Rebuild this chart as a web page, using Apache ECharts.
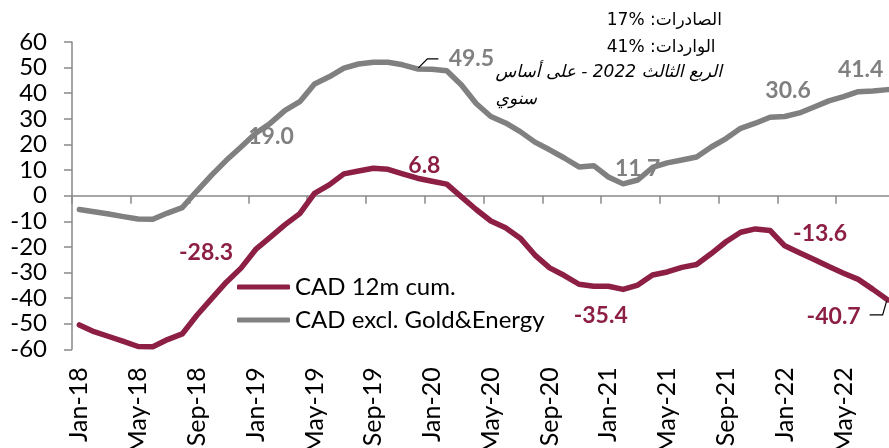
<!DOCTYPE html>
<html>
<head>
<meta charset="utf-8">
<script src="https://cdn.jsdelivr.net/npm/echarts@6/dist/echarts.min.js"></script>
<style>
  html,body{margin:0;padding:0;background:#fff;}
  #cadChart{width:889px;height:448px;}
</style>
</head>
<body>
<div id="cadChart"></div>
<script>
  let months = [
    'Jan-18','Feb-18','Mar-18','Apr-18','May-18','Jun-18','Jul-18','Aug-18','Sep-18','Oct-18','Nov-18','Dec-18',
    'Jan-19','Feb-19','Mar-19','Apr-19','May-19','Jun-19','Jul-19','Aug-19','Sep-19','Oct-19','Nov-19','Dec-19',
    'Jan-20','Feb-20','Mar-20','Apr-20','May-20','Jun-20','Jul-20','Aug-20','Sep-20','Oct-20','Nov-20','Dec-20',
    'Jan-21','Feb-21','Mar-21','Apr-21','May-21','Jun-21','Jul-21','Aug-21','Sep-21','Oct-21','Nov-21','Dec-21',
    'Jan-22','Feb-22','Mar-22','Apr-22','May-22','Jun-22','Jul-22','Aug-22'
  ]
  // CAD 12m cumulative
  let cadCum = [
    -50.5,-53.1,-55.0,-56.9,-58.9,-59.0,-56.2,-54.0,-46.7,-40.2,-33.8,-28.3,
    -21.0,-16.2,-11.3,-7.0,0.9,4.2,8.5,9.6,10.7,10.3,8.5,6.8,
    5.6,4.5,-0.5,-5.4,-9.9,-12.5,-16.6,-23.2,-28.2,-31.2,-34.6,-35.4,
    -35.4,-36.6,-34.9,-31.0,-29.8,-28.0,-26.9,-22.6,-18.0,-14.3,-13.0,-13.6,
    -19.6,-22.3,-24.9,-27.7,-30.3,-32.7,-36.6,-40.7
  ]
  // CAD excl. gold & energy
  let cadExGold = [
    -5.4,-6.3,-7.2,-8.2,-9.1,-9.2,-6.8,-4.7,1.8,8.0,13.8,19.0,
    24.4,28.3,33.3,36.7,43.6,46.4,49.8,51.4,52.1,52.1,51.1,49.5,
    49.4,48.8,43.2,36.0,30.9,28.4,25.0,20.9,17.9,14.7,11.2,11.7,
    7.3,4.6,6.1,11.0,12.8,13.9,15.1,19.0,22.3,26.3,28.3,30.6,
    30.9,32.3,34.6,37.0,38.7,40.6,40.9,41.4
  ]
  let yTicks = {min:-60, max:60, step:10}
  let noteLines = ['الصادرات: 17%', 'الواردات: 41%']
  let noteItalic = ['الربع الثالث 2022 - على أساس', 'سنوي']

  let red = '#8C1F43'
  let gray = '#808080'
  let latin = 'Lato, "Open Sans", sans-serif'

  // label offsets (px) from the point
  let redSpots = {11:[-35,-16], 23:[7,-13], 35:[7,29], 47:[50,3], 55:[-54,17]}
  let graySpots = {11:[30,-10], 23:[54,-10], 35:[44,3], 47:[18,-27], 55:[-27,-20]}
  // leader lines: [seriesIndex, dataIndex, bends relative to the point]
  let leaders = [
    [1, 23, [[1,-1],[10,-10],[21,-10]]],
    [0, 55, [[-1,1],[-5,15],[-18,15]]]
  ]

  function buildData(values, spots){
    return values.map(function(v, i){
      if(!spots[i]) return v
      return {value:v, label:{show:true}}
    })
  }
  // right-to-left line, numbers with % kept left-to-right
  function rtl(s){
    return '\u202B' + s.replace(/(\d+%)/g, '\u202A$1\u202C') + '\u202C'
  }

  let myChart = echarts.init(document.getElementById('cadChart'))

  function lineSeries(name, values, color, spots){
    return {
      name: name,
      type: 'line',
      data: buildData(values, spots),
      symbol: 'circle',
      symbolSize: 0,
      showSymbol: true,
      showAllSymbol: true,
      lineStyle: {color: color, width: 5.5, cap: 'round', join: 'round'},
      itemStyle: {color: color},
      label: {
        show: false,
        position: 'inside',
        fontFamily: latin,
        fontSize: 23,
        fontWeight: 'bold',
        color: color,
        formatter: function(p){ return p.value.toFixed(1) }
      },
      labelLayout: function(p){
        let s = spots[p.dataIndex]
        return s ? {dx: s[0], dy: s[1]} : {}
      },
      emphasis: {disabled: true}
    }
  }

  let option = {
    animation: false,
    backgroundColor: '#ffffff',
    textStyle: {fontFamily: latin},
    grid: {left: 72, right: -6, top: 42, bottom: 98.7, containLabel: false, outerBoundsMode: 'none'},
    legend: {
      orient: 'vertical',
      left: 237,
      top: 275,
      padding: 0,
      itemWidth: 53,
      itemHeight: 5,
      itemGap: 9,
      icon: 'roundRect',
      data: ['CAD 12m cum.', 'CAD excl. Gold&Energy'],
      textStyle: {fontFamily: latin, fontSize: 24, lineHeight: 24, color: '#000'}
    },
    xAxis: [
      {
        type: 'category',
        data: months,
        boundaryGap: true,
        axisLine: {onZero: true, lineStyle: {color: '#898989', width: 1.5}},
        axisTick: {show: true, interval: 3, length: 8, lineStyle: {color: '#898989', width: 1.5}},
        axisLabel: {show: false},
        splitLine: {show: false}
      },
      {
        type: 'category',
        data: months,
        boundaryGap: true,
        position: 'bottom',
        axisLine: {show: false, onZero: false},
        axisTick: {show: false},
        axisLabel: {interval: 3, rotate: 90, margin: 18, fontFamily: latin, fontSize: 25, color: '#000'},
        splitLine: {show: false}
      }
    ],
    yAxis: {
      type: 'value',
      min: yTicks.min,
      max: yTicks.max,
      interval: yTicks.step,
      axisLine: {show: true, lineStyle: {color: '#898989', width: 1.5}},
      axisTick: {show: true, length: 8, lineStyle: {color: '#898989', width: 1.5}},
      axisLabel: {margin: 25, fontFamily: latin, fontSize: 24, color: '#000'},
      splitLine: {show: false}
    },
    graphic: [
      {
        id: 'note1',
        type: 'text',
        right: 167,
        top: 7,
        style: {
          text: noteLines.map(rtl).join('\n'),
          font: '17px "DejaVu Sans"',
          lineHeight: 27,
          align: 'right',
          fill: '#000'
        }
      },
      {
        id: 'note2',
        type: 'text',
        right: 167,
        top: 59,
        style: {
          text: noteItalic.map(rtl).join('\n'),
          font: 'italic 17px "DejaVu Sans"',
          lineHeight: 27,
          align: 'right',
          fill: '#000'
        }
      }
    ],
    series: [
      lineSeries('CAD 12m cum.', cadCum, red, redSpots),
      lineSeries('CAD excl. Gold&Energy', cadExGold, gray, graySpots)
    ]
  }

  myChart.setOption(option)

  // leader lines hung off the data points, positioned through the chart's own scales
  let leaderGraphics = leaders.map(function(l, k){
    let values = l[0] === 0 ? cadCum : cadExGold
    let p = myChart.convertToPixel({seriesIndex: l[0]}, [l[1], values[l[1]]])
    return {
      id: 'leader' + k,
      type: 'polyline',
      z: 10,
      shape: {points: l[2].map(function(d){ return [p[0] + d[0], p[1] + d[1]] })},
      style: {stroke: '#000', lineWidth: 1.2, fill: null}
    }
  })
  myChart.setOption({graphic: leaderGraphics})
</script>
</body>
</html>
